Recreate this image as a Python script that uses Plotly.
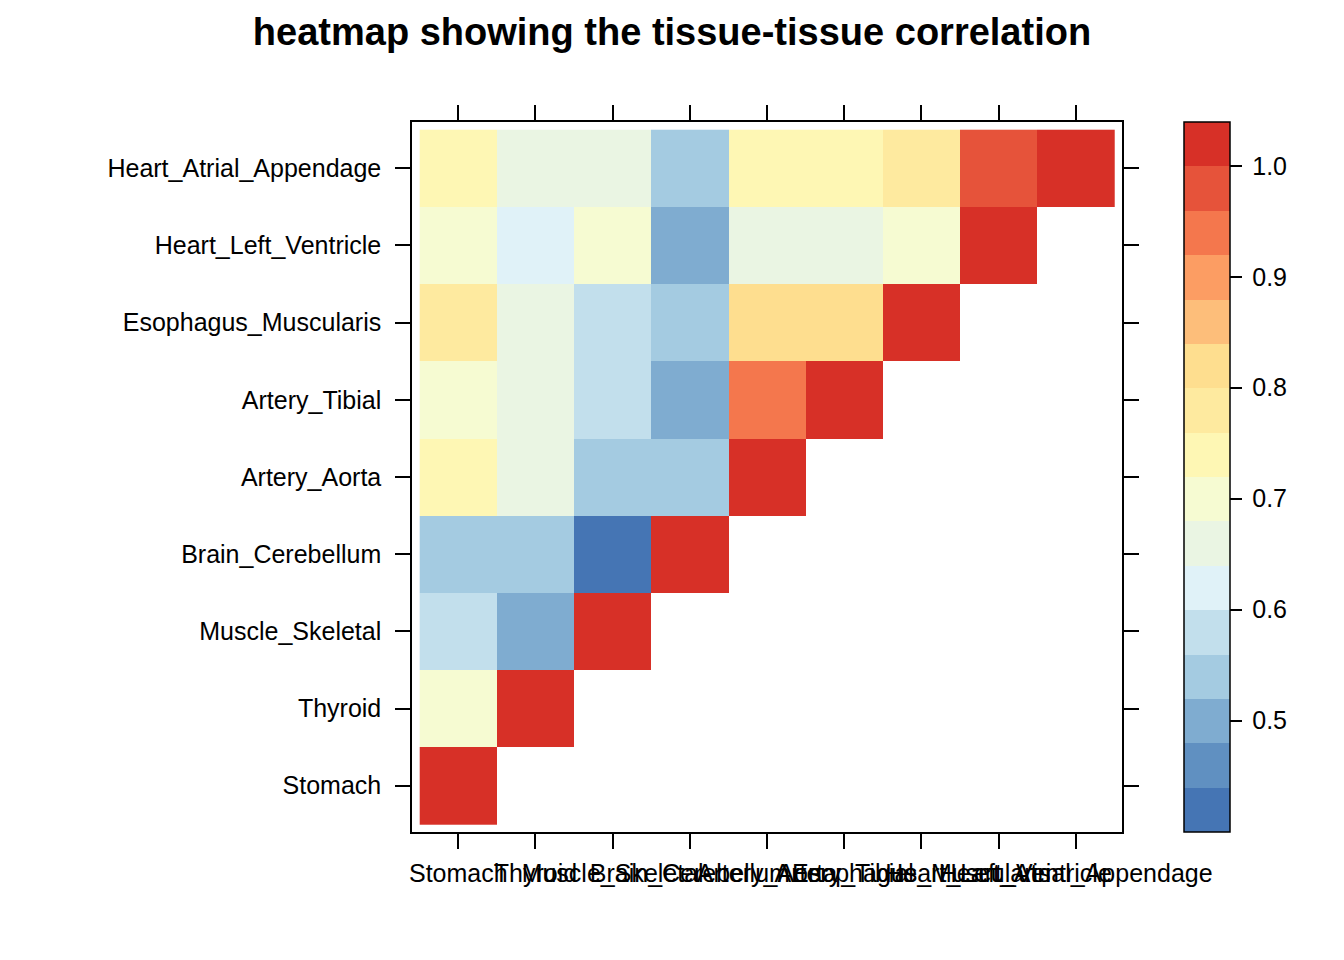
import plotly.graph_objects as go

# tissues, bottom row to top row (same order along x)
tissues = ['Stomach', 'Thyroid', 'Muscle_Skeletal', 'Brain_Cerebellum',
           'Artery_Aorta', 'Artery_Tibial', 'Esophagus_Muscularis',
           'Heart_Left_Ventricle', 'Heart_Atrial_Appendage']

# correlations shown for each row (lower triangle, x <= y)
stomach = [1.00]
thyroid = [0.70, 1.00]
muscle_skeletal = [0.58, 0.50, 1.00]
brain_cerebellum = [0.54, 0.54, 0.43, 1.00]
artery_aorta = [0.74, 0.66, 0.54, 0.55, 1.00]
artery_tibial = [0.71, 0.66, 0.58, 0.50, 0.94, 1.00]
esophagus_muscularis = [0.78, 0.66, 0.58, 0.54, 0.82, 0.82, 1.00]
heart_left_ventricle = [0.70, 0.62, 0.70, 0.50, 0.66, 0.66, 0.70, 1.00]
heart_atrial_appendage = [0.74, 0.66, 0.66, 0.54, 0.74, 0.74, 0.78, 0.97, 1.00]

rows = [stomach, thyroid, muscle_skeletal, brain_cerebellum, artery_aorta,
        artery_tibial, esophagus_muscularis, heart_left_ventricle,
        heart_atrial_appendage]

colorbar_ticks = [0.5, 0.6, 0.7, 0.8, 0.9, 1.0]

# 16 colour regions, low to high
region_colors = ['#4575B4', '#6090C1', '#7FACD0', '#A4CBE1', '#C2DFEC',
                 '#E0F2F8', '#EAF5E3', '#F6FBD2', '#FEF7B4', '#FEEA9F',
                 '#FEDE8F', '#FDBE7A', '#FC9D63', '#F4774D', '#E6533A',
                 '#D73027']

n = len(tissues)
z = [r + [None] * (n - len(r)) for r in rows]
pos = list(range(1, n + 1))

colorscale = []
for i, c in enumerate(region_colors):
    colorscale.append([i / len(region_colors), c])
    colorscale.append([(i + 1) / len(region_colors), c])

font = 'Liberation Sans, Arial, sans-serif'

fig = go.Figure(go.Heatmap(
    x=pos, y=pos, z=z,
    zmin=0.3995, zmax=1.0395,
    colorscale=colorscale,
    hoverongaps=False,
    colorbar=dict(
        x=1.0877, xanchor='left', xpad=0,
        y=0.5, yanchor='middle', ypad=0,
        len=710, lenmode='pixels',
        thickness=46, thicknessmode='pixels',
        outlinecolor='black', outlinewidth=1.5,
        tickvals=colorbar_ticks,
        # thin space gives the small gap lattice leaves after the tick
        ticktext=['\u2009{:.1f}'.format(v) for v in colorbar_ticks],
        ticks='outside', ticklen=12, tickwidth=1.5, tickcolor='black',
        tickfont=dict(family=font, size=25, color='black'),
    ),
))

axis_common = dict(
    showgrid=False, zeroline=False,
    showline=True, linecolor='black', linewidth=1.5, mirror='ticks',
    ticks='outside', ticklen=15, tickwidth=1.5, tickcolor='black',
    tickvals=pos, ticktext=tissues, tickangle=0,
    tickfont=dict(family=font, size=25, color='black'),
    range=[0.4, 9.6],
)

fig.update_layout(
    width=1344, height=960,
    margin=dict(l=404, r=230, t=114, b=136),
    paper_bgcolor='white', plot_bgcolor='white',
    title=dict(text='heatmap showing the tissue-tissue correlation',
               x=664 / 1344, xref='container', xanchor='center',
               y=1 - 24 / 960, yref='container', yanchor='middle',
               font=dict(family=font, size=38, color='black', weight='bold')),
    xaxis=dict(axis_common, ticklabelstandoff=3),
    yaxis=dict(axis_common, ticklabelstandoff=9),
)

fig.write_html('out.html')
